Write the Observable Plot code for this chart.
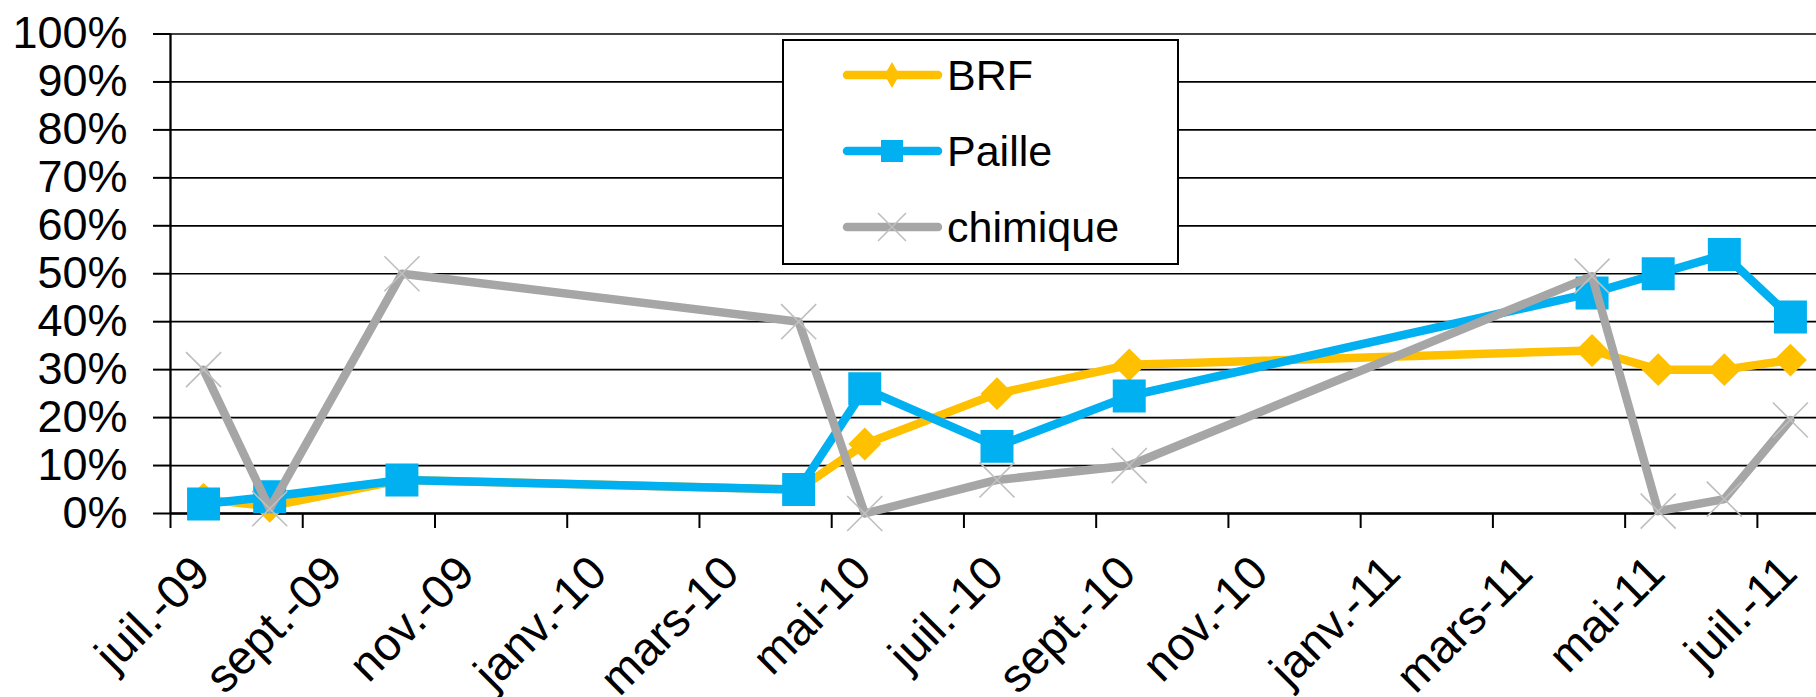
<!DOCTYPE html>
<html>
<head>
<meta charset="utf-8">
<script src="https://cdn.jsdelivr.net/npm/d3@7"></script>
<script src="https://cdn.jsdelivr.net/npm/@observablehq/plot@0.6"></script>
<style>
  html, body { margin: 0; padding: 0; background: #fff; overflow: hidden; }
  #wrap { position: relative; width: 1816px; height: 697px; font-family: "Liberation Sans", Arial, sans-serif; }
  #wrap svg.main { display: block; }
  #legend { position: absolute; left: 782px; top: 39px; width: 397px; height: 226px; box-sizing: border-box;
            border: 2px solid #000; background: #fff; }
</style>
</head>
<body>
<div id="wrap"></div>
<script>
// ---- data ----
const months   = ["2009-07","2009-08","2009-10","2010-04","2010-05","2010-07","2010-09","2011-04","2011-05","2011-06","2011-07"];
const brf      = [3, 1.5, 7, 5, 14.5, 25, 31, 34, 30, 30, 32];
const paille   = [2, 3.5, 7, 5, 26, 14, 24.5, 46, 50, 54, 41];
const chimique = [30, 1, 50, 40, 0, 7, 10, 49.5, 0.5, 3, 19.5];
const seriesNames = ["BRF", "Paille", "chimique"];
const tickMonths = ["2009-07","2009-09","2009-11","2010-01","2010-03","2010-05","2010-07","2010-09","2010-11","2011-01","2011-03","2011-05","2011-07"];
const tickLabels = ["juil.-09","sept.-09","nov.-09","janv.-10","mars-10","mai-10","juil.-10","sept.-10","nov.-10","janv.-11","mars-11","mai-11","juil.-11"];
const yTicks = [0, 10, 20, 30, 40, 50, 60, 70, 80, 90, 100];

// ---- helpers ----
// month slot index counted from the first axis month (Excel date axis, base unit = month)
const startMonth = "2009-07";
function monthIndex(m) {
  const [y, mo] = m.split("-").map(Number);
  const [y0, m0] = startMonth.split("-").map(Number);
  return (y - y0) * 12 + (mo - m0);
}
const seriesValues = [brf, paille, chimique];
const data = seriesValues.map((vals, s) =>
  months.map((m, i) => ({series: seriesNames[s], slot: monthIndex(m) + 0.5, value: vals[i]})));
const ticks = tickMonths.map(monthIndex);
const lastSlot = monthIndex("2011-08");

const colors = {BRF: "#FFC000", Paille: "#00B0F0", chimique: "#A6A6A6"};
const markerColor = "#BFBFBF";

const W = 1816, H = 697, mt = 33.5, mb = 184, ml = 170, mr = -7;
const frameH = H - mt - mb;
const fontFamily = "'Liberation Sans', Arial, sans-serif";
const lw = 8.5;

const chart = Plot.plot({
  width: W, height: H,
  marginTop: mt, marginBottom: mb, marginLeft: ml, marginRight: mr,
  style: {fontFamily, fontSize: "44px", color: "#000", background: "#fff", overflow: "hidden"},
  x: {type: "linear", domain: [0, lastSlot], axis: null},
  y: {domain: [0, 100], axis: null},
  marks: [
    Plot.ruleY(yTicks, {stroke: "#000", strokeWidth: 1.7}),
    Plot.axisY({ticks: yTicks, tickFormat: d => d + "%", tickSize: 17, tickPadding: 26, label: null,
                fontSize: 45, stroke: "#000", strokeWidth: 2, strokeOpacity: 1}),
    Plot.ruleX([0], {stroke: "#000", strokeWidth: 2.3}),
    Plot.ruleY([0], {stroke: "#000", strokeWidth: 2.3}),
    Plot.ruleX(ticks, {x: d => d, stroke: "#000", strokeWidth: 2, insetTop: frameH, insetBottom: -15}),
    Plot.text(ticks, {x: d => d, frameAnchor: "bottom", text: (d, i) => tickLabels[i],
                      rotate: -45, textAnchor: "end", lineAnchor: "bottom", dx: 42, dy: 62,
                      fontSize: 47, fill: "#000"}),
    // BRF
    Plot.line(data[0], {x: "slot", y: "value", stroke: colors.BRF, strokeWidth: lw, strokeLinejoin: "round", strokeLinecap: "round"}),
    Plot.dot(data[0], {x: "slot", y: "value", symbol: "diamond2", r: 14.8, fill: colors.BRF, stroke: "none"}),
    // Paille
    Plot.line(data[1], {x: "slot", y: "value", stroke: colors.Paille, strokeWidth: lw, strokeLinejoin: "round", strokeLinecap: "round"}),
    Plot.dot(data[1], {x: "slot", y: "value", symbol: "square", r: 18.6, fill: colors.Paille, stroke: "none"}),
    // chimique
    Plot.line(data[2], {x: "slot", y: "value", stroke: colors.chimique, strokeWidth: lw, strokeLinejoin: "round", strokeLinecap: "round"}),
    Plot.dot(data[2], {x: "slot", y: "value", symbol: "times", r: 16, stroke: markerColor, strokeWidth: 1.6, fill: "none"})
  ]
});
chart.classList.add("main");
const wrap = document.getElementById("wrap");
wrap.appendChild(chart);

// ---- legend (overlaid inside the plot area, as in the reference) ----
const legend = document.createElement("div");
legend.id = "legend";
wrap.appendChild(legend);
const lsvg = d3.select(legend).append("svg").attr("width", 393).attr("height", 222)
  .style("display", "block");
const rowY = [34, 110, 186];
seriesNames.forEach((name, i) => {
  const g = lsvg.append("g").attr("transform", `translate(0,${rowY[i]})`);
  g.append("line").attr("x1", 63).attr("x2", 154).attr("y1", 0).attr("y2", 0)
    .attr("stroke", colors[name]).attr("stroke-width", 8.5).attr("stroke-linecap", "round");
  if (name === "BRF") {
    g.append("path").attr("d", "M108,-13L115.5,0L108,13L100.5,0Z").attr("fill", colors[name]);
  } else if (name === "Paille") {
    g.append("rect").attr("x", 97).attr("y", -11).attr("width", 22).attr("height", 22).attr("fill", colors[name]);
  } else {
    g.append("path").attr("d", "M94,-14L122,14M94,14L122,-14").attr("stroke", markerColor).attr("stroke-width", 1.6);
  }
  g.append("text").attr("x", 163).attr("y", 0).attr("dy", "0.35em")
    .attr("font-family", fontFamily).attr("font-size", 43).attr("fill", "#000").text(name);
});
</script>
</body>
</html>
